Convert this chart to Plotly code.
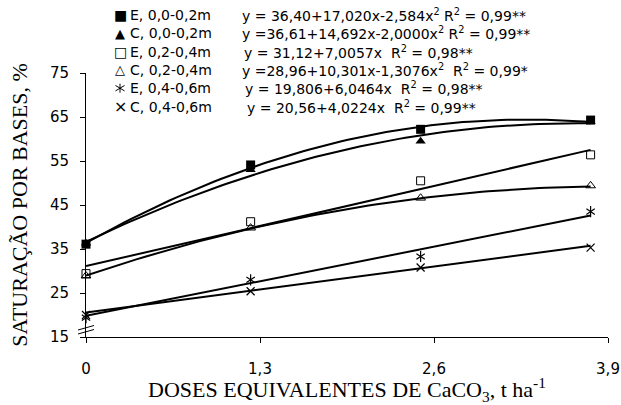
import numpy as np
import plotly.graph_objects as go

# Doses of lime (t ha-1) and base saturation (%) by treatment and depth
doses = [0, 1.23, 2.5, 3.77]

sat_e_00 = [36.1, 54.1, 62.2, 64.3]
sat_c_00 = [36.3, 53.0, 59.5, 64.0]
sat_e_24 = [29.4, 41.2, 50.5, 56.4]
sat_c_24 = [28.9, 39.8, 46.6, 49.4]
sat_e_46 = [19.4, 28.0, 33.3, 43.5]
sat_c_46 = [20.0, 25.4, 30.8, 35.3]

# Regression coefficients: b0, b1, b2 (y = b0 + b1*x + b2*x^2)
fit_e_00 = [36.40, 17.020, -2.584]
fit_c_00 = [36.61, 14.692, -2.0000]
fit_e_24 = [31.12, 7.0057, 0.0]
fit_c_24 = [28.96, 10.301, -1.3076]
fit_e_46 = [19.806, 6.0464, 0.0]
fit_c_46 = [20.56, 4.0224, 0.0]

series_names = ["E, 0,0-0,2m", "C, 0,0-0,2m", "E, 0,2-0,4m",
                "C, 0,2-0,4m", "E, 0,4-0,6m", "C, 0,4-0,6m"]
equations = [
    "y = 36,40+17,020x-2,584x<sup>2</sup> R<sup>2</sup> = 0,99**",
    "y =36,61+14,692x-2,0000x<sup>2</sup> R<sup>2</sup> = 0,99**",
    "y = 31,12+7,0057x \u00a0R<sup>2</sup> = 0,98**",
    "y =28,96+10,301x-1,3076x<sup>2</sup> \u00a0R<sup>2</sup> = 0,99*",
    "y = 19,806+6,0464x \u00a0R<sup>2</sup> = 0,98**",
    "y = 20,56+4,0224x \u00a0R<sup>2</sup> = 0,99**",
]

x_tickvals = [0, 1.3, 2.6, 3.9]
x_ticktext = ["0", "1,3", "2,6", "3,9"]
y_tickvals = [15, 25, 35, 45, 55, 65, 75]

W, H = 621, 405
ML, MR, MT, MB = 86, 13, 73, 68
PW, PH = W - ML - MR, H - MT - MB


def px(xp):
    return (xp - ML) / PW


def py(yp):
    return (H - MB - yp) / PH


SANS = "DejaVu Sans"
SERIF = "Liberation Serif, Times New Roman, serif"

fig = go.Figure()

x_fit = np.linspace(doses[0], doses[-1], 80)
for coefs in [fit_e_00, fit_c_00, fit_e_24, fit_c_24, fit_e_46, fit_c_46]:
    y_fit = coefs[0] + coefs[1] * x_fit + coefs[2] * x_fit ** 2
    fig.add_trace(go.Scatter(x=x_fit, y=y_fit, mode="lines",
                             line=dict(color="black", width=2),
                             showlegend=False, hoverinfo="skip"))

marker_specs = [
    (sat_c_00, "triangle-up", 9, 0),
    (sat_e_00, "square", 9, 0),
    (sat_e_24, "square-open", 8, 1),
    (sat_c_24, "triangle-up-open", 8.5, 1),
    (sat_e_46, "y-up-open", 7, 1.2),
    (sat_e_46, "y-down-open", 7, 1.2),
    (sat_c_46, "x-thin-open", 8, 1.2),
]
for vals, sym, size, lw in marker_specs:
    fig.add_trace(go.Scatter(
        x=doses, y=vals, mode="markers", cliponaxis=False, showlegend=False,
        marker=dict(symbol=sym, size=size, color="black",
                    line=dict(color="black", width=lw))))

annotations = []
shapes = []

# Legend block and regression equations
row_y = [15, 33.3, 51.6, 69.9, 88.2, 106.5]
glyphs = ["\u25A0", "\u25B2", "\u25A1", "\u25B3", None, "\u00D7"]
glyph_size = [14, 13, 14, 13, 0, 16]
eq_x = [240, 240, 242, 240, 243, 245]
for i, name in enumerate(series_names):
    if glyphs[i] is not None:
        annotations.append(dict(
            x=px(120), y=py(row_y[i]), xref="paper", yref="paper",
            text=glyphs[i], showarrow=False, xanchor="center", yanchor="middle",
            font=dict(family=SANS, size=glyph_size[i], color="black")))
    annotations.append(dict(
        x=px(128), y=py(row_y[i]), xref="paper", yref="paper",
        text=name, showarrow=False, xanchor="left", yanchor="middle",
        font=dict(family=SANS, size=14, color="black")))
    annotations.append(dict(
        x=px(eq_x[i]), y=py(row_y[i]), xref="paper", yref="paper",
        text=equations[i], showarrow=False, xanchor="left", yanchor="middle",
        font=dict(family=SANS, size=14, color="black")))

# Six-armed asterisk glyph in the legend
cx, cy, r = 120, row_y[4], 4.5
for (x0, y0, x1, y1) in [(cx, cy - r, cx, cy + r),
                         (cx - r, cy - r * 0.6, cx + r, cy + r * 0.6),
                         (cx - r, cy + r * 0.6, cx + r, cy - r * 0.6)]:
    shapes.append(dict(type="line", xref="paper", yref="paper",
                       x0=px(x0), y0=py(y0), x1=px(x1), y1=py(y1),
                       line=dict(color="black", width=1)))

# Axis break marks on the y axis
for (x0, y0, x1, y1) in [(78, 330, 94, 325.5), (78, 334, 94, 329.5)]:
    shapes.append(dict(type="line", xref="paper", yref="paper",
                       x0=px(x0), y0=py(y0), x1=px(x1), y1=py(y1),
                       line=dict(color="black", width=1)))

fig.update_layout(
    width=W, height=H,
    margin=dict(l=ML, r=MR, t=MT, b=MB, pad=0),
    paper_bgcolor="white", plot_bgcolor="white",
    showlegend=False,
    annotations=annotations,
    shapes=shapes,
    xaxis=dict(
        range=[0, 3.9], tickvals=x_tickvals, ticktext=x_ticktext,
        automargin=False,
        showline=True, linecolor="black", linewidth=1,
        ticks="outside", ticklen=5, tickcolor="black", tickwidth=1,
        showgrid=False, zeroline=False, ticklabelstandoff=13,
        tickfont=dict(family=SANS, size=15, color="black"),
        title=dict(text="DOSES EQUIVALENTES DE CaCO<sub>3</sub>, t ha<sup>-1</sup>",
                   font=dict(family=SERIF, size=22, color="black"), standoff=6),
    ),
    yaxis=dict(
        range=[15, 75], tickvals=y_tickvals,
        automargin=False,
        showline=True, linecolor="black", linewidth=1,
        ticks="outside", ticklen=5, tickcolor="black", tickwidth=1,
        showgrid=False, zeroline=False, ticklabelstandoff=8,
        tickfont=dict(family=SANS, size=15, color="black"),
        title=dict(text="SATURAÇÃO POR BASES, %",
                   font=dict(family=SERIF, size=22, color="black"), standoff=16),
    ),
)

fig.write_html("out.html")
